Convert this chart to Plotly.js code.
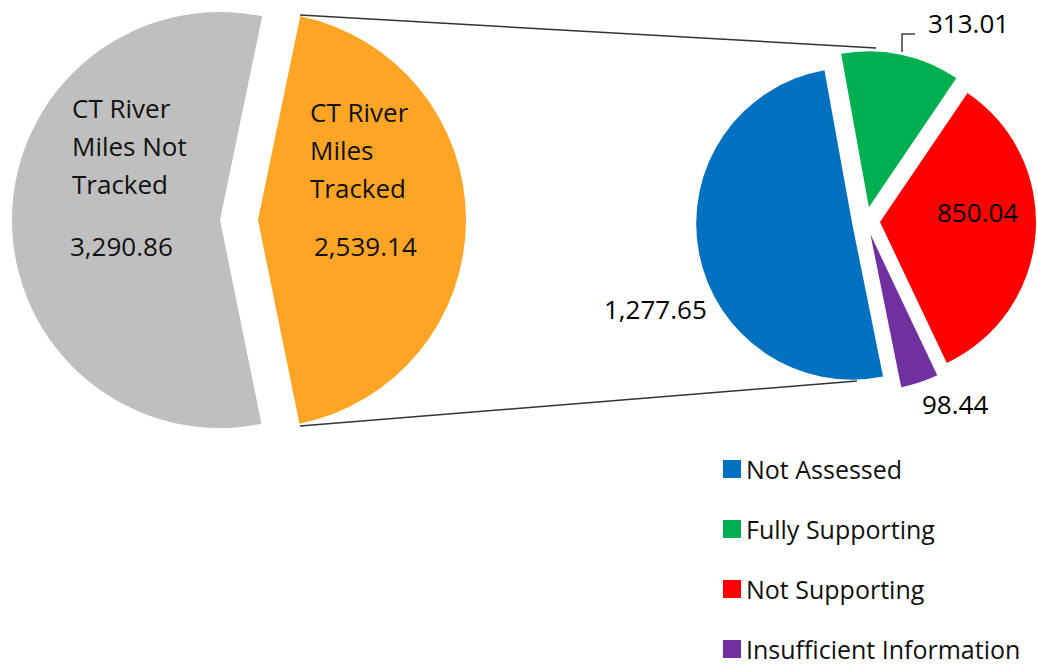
<!DOCTYPE html>
<html>
<head>
<meta charset="utf-8">
<script src="https://cdn.plot.ly/plotly-3.0.1.min.js"></script>
<style>
  html, body { margin: 0; padding: 0; background: #fff; }
  #chart { width: 1038px; height: 668px; }
</style>
</head>
<body>
<div id="chart"></div>
<script>
// Overview pie (all CT river miles)
const overviewLabels = ['CT River<br>Miles Not<br>Tracked', 'CT River<br>Miles<br>Tracked'];
const overviewValues = [3290.86, 2539.14];
const overviewColors = ['#BFBFBF', '#FFA526'];

// Detail pie (the tracked miles split by status)
const detailLabels = ['Not Assessed', 'Fully Supporting', 'Not Supporting', 'Insufficient Information'];
const detailValues = [1277.65, 313.01, 850.04, 98.44];
const detailColors = ['#0070C0', '#00B050', '#FF0000', '#7030A0'];

// page size, everything below is placed in pixels and turned into paper units
const W = 1038, H = 668;
const px = x => x / W;
const py = y => 1 - y / H;
const box = (cx, cy, half) => ({ x: [px(cx - half), px(cx + half)], y: [py(cy + half), py(cy - half)] });

const fmt = v => v.toLocaleString('en-US', { minimumFractionDigits: 2, maximumFractionDigits: 2 });
const textFont = { family: 'Open Sans, sans-serif', size: 26, color: '#111' };
const legendFont = Object.assign({}, textFont, { size: 25 });
const clear = 'rgba(0,0,0,0)';

// Excel explodes the tracked slice further than plotly's pull allows inside the page,
// so the overview pie is drawn twice, each copy showing one slice at its own centre
const overviewR = 208;
const overviewCentres = [[220, 220], [258, 220]];
const overviewTraces = overviewCentres.map((c, k) => ({
  type: 'pie',
  values: overviewValues,
  labels: overviewLabels,
  sort: false,
  direction: 'clockwise',
  rotation: 168.5,
  textinfo: 'none',
  marker: { colors: overviewColors.map((col, i) => (i === k ? col : clear)) },
  domain: box(c[0], c[1], overviewR),
  showlegend: false
}));

const detailTrace = {
  type: 'pie',
  values: detailValues,
  labels: detailLabels,
  sort: false,
  direction: 'clockwise',
  rotation: 168.6,
  pull: 0.09,
  textinfo: 'none',
  marker: { colors: detailColors },
  domain: box(866, 221, 156 * 1.09),
  showlegend: false
};

const annotations = [];
const shapes = [];

// data labels of the overview pie: name lines then value
const overviewTextPos = [[70, 108, 68], [308, 112, 312]]; // left x, first line y, value x
const lineStep = 38;
const valueY = 246;
overviewLabels.forEach((lab, i) => {
  const [x, y0, vx] = overviewTextPos[i];
  lab.split('<br>').forEach((line, j) => {
    annotations.push({ xref: 'paper', yref: 'paper', x: px(x), y: py(y0 + j * lineStep),
      xanchor: 'left', yanchor: 'middle', text: line, showarrow: false, font: textFont });
  });
  annotations.push({ xref: 'paper', yref: 'paper', x: px(vx), y: py(valueY),
    xanchor: 'left', yanchor: 'middle', text: fmt(overviewValues[i]), showarrow: false, font: textFont });
});

// data labels of the detail pie (Excel "best fit" spots)
const detailTextPos = [[655, 309], [968, 23], [977, 212], [955, 404]];
detailValues.forEach((v, i) => {
  annotations.push({ xref: 'paper', yref: 'paper', x: px(detailTextPos[i][0]), y: py(detailTextPos[i][1]),
    xanchor: 'center', yanchor: 'middle', text: fmt(v), showarrow: false,
    font: Object.assign({}, textFont, { color: '#000' }) });
});

// leader line of the small green label
shapes.push({ type: 'path', xref: 'paper', yref: 'paper',
  path: `M ${px(902)},${py(52)} L ${px(902)},${py(34)} L ${px(915)},${py(34)}`,
  line: { color: '#404040', width: 1.5 } });

// connector lines between the two pies
const connectors = [[[300, 15], [876, 48]], [[300, 426], [857, 381]]];
connectors.forEach(([a, b]) => {
  shapes.push({ type: 'line', xref: 'paper', yref: 'paper',
    x0: px(a[0]), y0: py(a[1]), x1: px(b[0]), y1: py(b[1]),
    line: { color: '#333', width: 1.5 } });
});

// legend for the detail pie
const legendX = 732, legendTop = 469, legendStep = 60, swatch = 18;
detailLabels.forEach((lab, i) => {
  const y = legendTop + i * legendStep;
  shapes.push({ type: 'rect', xref: 'paper', yref: 'paper',
    x0: px(legendX - swatch / 2), x1: px(legendX + swatch / 2),
    y0: py(y + swatch / 2), y1: py(y - swatch / 2),
    fillcolor: detailColors[i], line: { width: 0 } });
  annotations.push({ xref: 'paper', yref: 'paper', x: px(legendX + 12), y: py(y),
    xanchor: 'left', yanchor: 'middle', text: lab, showarrow: false, font: legendFont });
});

const layout = {
  width: W,
  height: H,
  margin: { l: 0, r: 0, t: 0, b: 0 },
  paper_bgcolor: '#fff',
  showlegend: false,
  font: textFont,
  annotations: annotations,
  shapes: shapes
};

Plotly.newPlot('chart', overviewTraces.concat([detailTrace]), layout, { displayModeBar: false });
</script>
</body>
</html>
